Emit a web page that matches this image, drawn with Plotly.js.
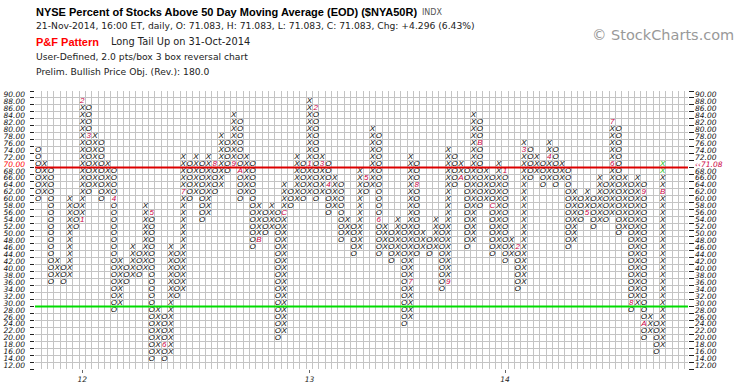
<!DOCTYPE html>
<html><head><meta charset="utf-8">
<script src="https://cdn.plot.ly/plotly-3.0.1.min.js"></script>
<style>html,body{margin:0;padding:0;background:#fff}#chart{width:745px;height:391px}</style>
</head><body><div id="chart"></div>
<script>
// Point & Figure columns, 2 points per box, 3 box reversal (box value = lower edge)
const colTypes = ['O','X','O','X','O','X','O','X','O','X',
                  'O','X','O','X','O','X','O','X','O','X',
                  'O','X','O','X','O','X','O','X','O','X',
                  'O','X','O','X','O','X','O','X','O','X',
                  'O','X','O','X','O','X','O','X','O','X',
                  'O','X','O','X','O','X','O','X','O','X',
                  'O','X','O','X','O','X','O','X','O','X',
                  'O','X','O','X','O','X','O','X','O','X',
                  'O','X','O','X','O','X','O','X','O','X',
                  'O','X','O','X','O','X','O','X','O','X'];
const colLows  = [60,62,36,38,36,38,52,54,62,64, 60,62,28,30,36,38,38,40,14,16,
                  14,16,32,34,60,62,54,56,62,64, 68,70,60,62,46,48,50,52,20,22,
                  58,60,60,62,60,62,56,58,48,50, 44,46,62,64,44,46,42,44,24,26,
                  44,46,44,46,34,36,64,66,46,48, 58,60,44,46,42,44,34,36,66,68,
                  64,66,64,66,46,48,54,56,52,54, 54,56,50,52,28,30,20,22,16,18];
const colHighs = [74,70,68,42,40,60,58,88,86,78, 76,70,68,42,40,46,44,58,56,28,
                  26,46,44,72,70,72,70,72,70,78, 76,84,82,72,70,58,56,58,56,64,
                  62,72,70,88,86,72,70,66,64,54, 52,68,66,80,78,52,50,54,52,72,
                  70,50,48,54,52,74,72,70,68,84, 82,68,66,70,68,48,46,76,74,72,
                  70,76,74,70,68,62,60,62,60,66, 64,82,80,66,64,66,64,26,24,70];
// month markers (1-9, A=Oct, B=Nov, C=Dec)
const markerCols  = [7,7,8,12,18,20,23,28,31,32,35,39, 43,44,45,46,52,54,59,60,65,67,70,72, 74,76,77,81,87,91,91,94,96,96,99];
const markerBoxes = [54,88,78,60,56,18,62,70,70,68,48,56, 70,86,70,64,66,54,36,64,36,66,76,58, 68,46,74,72,56,70,82,30,62,24,62];
const markerTexts = ['1','2','3','4','5','6','7','8','9','A','B','C', '1','2','3','4','5','6','7','8','9','A','B','C', '1','2','3','4','5','6','7','8','9','A','B'];
const greenBoxes = [68, 70];           // latest boxes of the current column
const yearLabels = ['12', '13', '14'];
const yearCols = [7, 43, 74];
const boxLabels = [12,14,16,18,20,22,24,26,28,30,32,34,36,38,40,42,44,46,48,50,
                   52,54,56,58,60,62,64,66,68,70,72,74,76,78,80,82,84,86,88,90];
const lastPrice = '71.08';
const overbought = 70, oversold = 30;

const lastCol = colTypes.length - 1;
const bx = [], by = [], bt = [], gx = [], gy = [], gt = [], mx = [], my = [], mt = [];
colTypes.forEach((t, c) => {
  for (let v = colLows[c]; v <= colHighs[c]; v += 2) {
    let mk = -1;
    for (let k = 0; k < markerCols.length; k++) if (markerCols[k] === c && markerBoxes[k] === v) mk = k;
    if (mk >= 0) { mx.push(c); my.push(v + 1); mt.push(markerTexts[mk]); }
    else if (c === lastCol && greenBoxes.includes(v)) { gx.push(c); gy.push(v + 1); gt.push(t); }
    else { bx.push(c); by.push(v + 1); bt.push(t); }
  }
});

const F = 'Liberation Sans, Arial, sans-serif';
const FD = 'DejaVu Sans, Verdana, sans-serif';
const glyphFont = {family: F, size: 8, style: 'italic'};
const traces = [
  {x: bx, y: by, text: bt, mode: 'text', type: 'scatter', textfont: Object.assign({color: '#000'}, glyphFont), hoverinfo: 'none'},
  {x: gx, y: gy, text: gt, mode: 'text', type: 'scatter', textfont: Object.assign({color: '#10c010'}, glyphFont), hoverinfo: 'none'},
  {x: mx, y: my, text: mt, mode: 'text', type: 'scatter', textfont: Object.assign({color: '#cc0044'}, glyphFont), hoverinfo: 'none'},
  {x: [0], y: [50], mode: 'markers', marker: {opacity: 0}, yaxis: 'y2', hoverinfo: 'none'}
];

const tickPos = boxLabels.map(v => v + 1);
const leftText = boxLabels.map(v => v === 70 ? '<span style="color:#ff0000">70.00</span>' : v.toFixed(2));
const rightText = boxLabels.map(v => v === 70 ? '<span style="color:#cc0044">‹‹' + lastPrice + '</span>' : v.toFixed(2));
const tickFont = {family: FD, size: 7.5, style: 'italic', color: '#111'};

const L = 35, R = 688, T = 91, B = 369;
const W = 745, H = 391;
const px = x => (x - L) / (R - L);
const py = y => (B - y) / (B - T);
const ann = (x, y, text, font) => ({xref: 'paper', yref: 'paper', x: px(x), y: py(y), text, showarrow: false, xanchor: 'left', yanchor: 'middle', font});

const layout = {
  width: W, height: H,
  margin: {l: L, r: W - R, t: T, b: H - B, pad: 0},
  paper_bgcolor: '#fff', plot_bgcolor: '#fff',
  showlegend: false,
  xaxis: {range: [-0.5, 103.0], tickvals: yearCols, ticktext: yearLabels, ticks: 'outside', ticklen: 3, tickcolor: '#666',
    tickfont: {family: FD, size: 7.5, style: 'italic', color: '#222'}, showgrid: false, zeroline: false,
    minor: {tick0: -0.5, dtick: 1, showgrid: true, gridcolor: '#c4c4c4', gridwidth: 1, ticks: ''},
    showline: false, fixedrange: true},
  yaxis: {range: [12, 92], tickvals: tickPos, ticktext: leftText, ticks: '', tickfont: tickFont, ticklabelstandoff: 9,
    showgrid: false, zeroline: false,
    minor: {tick0: 12, dtick: 2, showgrid: true, gridcolor: '#c4c4c4', gridwidth: 1, ticks: 'outside', ticklen: 4, tickcolor: '#222'},
    fixedrange: true},
  yaxis2: {range: [12, 92], overlaying: 'y', side: 'right', tickvals: tickPos, ticktext: rightText, ticks: '', tickfont: tickFont, ticklabelstandoff: 6,
    showgrid: false, zeroline: false,
    minor: {tick0: 12, dtick: 2, showgrid: false, ticks: 'outside', ticklen: 5, tickcolor: '#222'},
    fixedrange: true},
  shapes: [
    {type: 'line', xref: 'paper', x0: 0, x1: 1, yref: 'y', y0: overbought, y1: overbought, line: {color: '#dd0000', width: 2}},
    {type: 'line', xref: 'paper', x0: 0, x1: 1, yref: 'y', y0: oversold, y1: oversold, line: {color: '#00dd00', width: 2}}
  ],
  annotations: [
    ann(34, 12, '<b>NYSE Percent of Stocks Above 50 Day Moving Average (EOD) ($NYA50R)</b>', {family: F, size: 11, color: '#000'}),
    ann(420, 12, 'INDX', {family: FD, size: 8, color: '#555'}),
    ann(34, 26, '21-Nov-2014, 16:00 ET, daily, O: 71.083, H: 71.083, L: 71.083, C: 71.083, Chg: +4.296 (6.43%)', {family: FD, size: 9.2, color: '#222'}),
    ann(34, 41.5, '<b>P&amp;F Pattern</b>', {family: F, size: 11, color: '#ff0000'}),
    ann(109, 42, 'Long Tail Up on 31-Oct-2014', {family: FD, size: 9.8, color: '#222'}),
    ann(34, 56.5, 'User-Defined, 2.0 pts/box 3 box reversal chart', {family: FD, size: 9.2, color: '#222'}),
    ann(34, 71.5, 'Prelim. Bullish Price Obj. (Rev.): 180.0', {family: FD, size: 9.2, color: '#222'}),
    ann(590, 35, '© StockCharts.com', {family: FD, size: 14.5, color: '#999'})
  ]
};
Plotly.newPlot('chart', traces, layout, {staticPlot: true, displayModeBar: false});
</script></body></html>
